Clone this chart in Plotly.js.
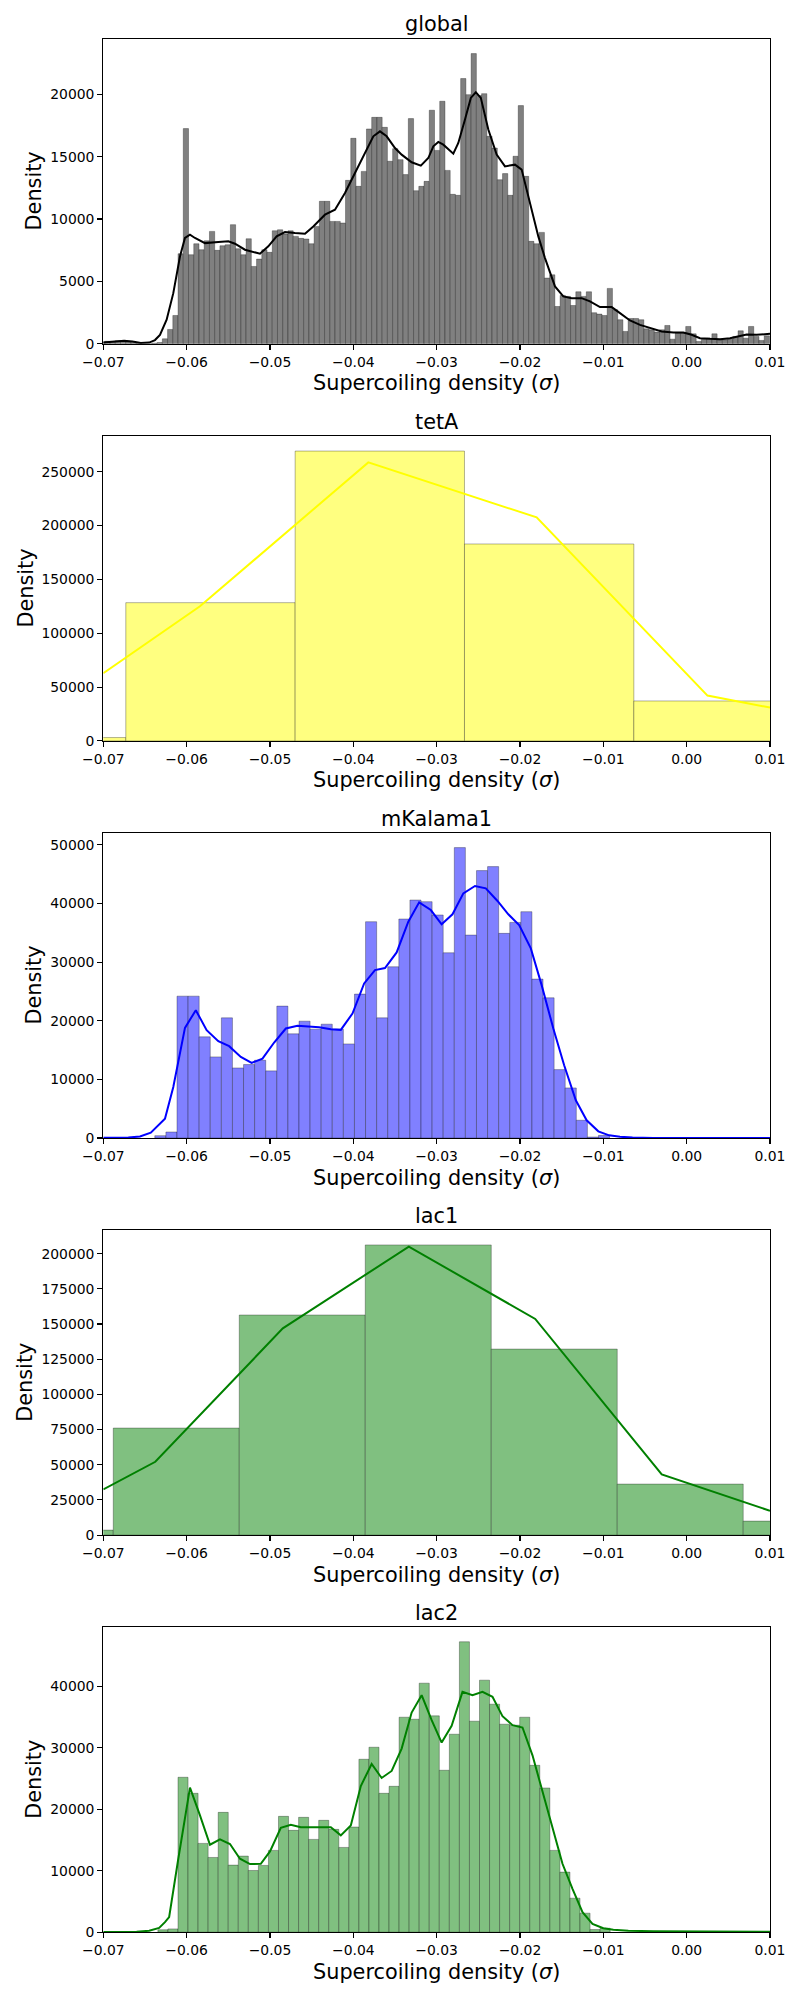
<!DOCTYPE html>
<html><head><meta charset="utf-8">
<script src="https://cdn.plot.ly/plotly-3.0.1.min.js"></script>
<style>html,body{margin:0;padding:0;background:#fff}</style>
</head><body><div id="chart" style="width:800px;height:2000px"></div>
<script>
// ---------- data ----------
const panelTitles = ['global', 'tetA', 'mKalama1', 'lac1', 'lac2'];
const xTickVals = [-0.07, -0.06, -0.05, -0.04, -0.03, -0.02, -0.01, 0.00, 0.01];
const xTickText = ['\u22120.07', '\u22120.06', '\u22120.05', '\u22120.04', '\u22120.03', '\u22120.02', '\u22120.01', '0.00', '0.01'];
const xLabel = 'Supercoiling density (<i>\u03c3</i>)';
const yLabel = 'Density';

// global
const globalBinStart = -0.07045;
const globalBinWidth = 0.000628;
const globalCounts = [150,200,200,250,200,150,100,50,0,0,50,100,
  400,1150,2270,7220,
  17250,7140,8020,7540,8260,9010,7490,7860,7940,9550,
  7620,7140,8420,6200,6790,7540,7330,9060,9140,8800,
  9060,8610,8450,8400,8020,9410,11420,11420,9810,9810,
  9680,13100,16470,12620,13820,17220,18150,18150,17350,14630,
  15640,14760,13560,18050,12270,12620,13020,18720,15500,19440,
  13900,11980,11900,21260,19970,23260,19900,20050,16630,15690,
  13150,13640,11900,15030,19090,13420,8210,8020,8930,5270,
  5530,2990,3880,3800,3070,4170,3800,4170,2490,2380,
  2270,4440,2730,1930,990,2030,2030,1930,1200,1120,
  940,1120,1470,370,860,860,1390,800,190,370,
  450,800,320,320,370,590,1040,450,1390,590,
  270,640];
const globalKdeX = [-0.0700,-0.0685,-0.0675,-0.0665,-0.0655,-0.0645,-0.0638,-0.0632,-0.0624,-0.0616,-0.0608,-0.0602,-0.0596,-0.0590,-0.0578,-0.0562,-0.0550,-0.0542,-0.0530,-0.0512,-0.0502,-0.0492,-0.0482,-0.0470,-0.0458,-0.0448,-0.0434,-0.0422,-0.0410,-0.0398,-0.0386,-0.0376,-0.0368,-0.0360,-0.0350,-0.0342,-0.0330,-0.0319,-0.0310,-0.0304,-0.0298,-0.0292,-0.0280,-0.0274,-0.0266,-0.0259,-0.0253,-0.0247,-0.0238,-0.0228,-0.0218,-0.0206,-0.0198,-0.0188,-0.0178,-0.0170,-0.0158,-0.0148,-0.0138,-0.0126,-0.0116,-0.0104,-0.0090,-0.0080,-0.0068,-0.0056,-0.0044,-0.0030,-0.0016,-0.0004,0.0006,0.0016,0.0028,0.0040,0.0052,0.0064,0.0072,0.0084,0.0100];
const globalKdeY = [100,200,240,180,60,100,300,720,1930,4060,7000,8480,8740,8480,8070,8150,8210,8020,7540,7220,7810,8610,8960,8880,8820,9410,10350,10750,12090,13690,15290,16630,17030,16630,15690,15160,14550,14280,14890,15830,16180,15960,15240,16100,17970,19710,20160,19710,17170,15160,14220,14360,13960,11280,8610,6870,4600,3800,3660,3660,3400,2940,2940,2460,1870,1520,1250,990,910,910,720,450,400,370,450,640,750,720,800];

// tetA
const tetABinStart = -0.08762;
const tetABinWidth = 0.02032;
const tetACounts = [3100, 128400, 269200, 182900, 37100];
const tetAKdeX = [-0.0700, -0.0584, -0.0382, -0.0180, 0.0025, 0.0100];
const tetAKdeY = [62800, 125000, 258700, 207600, 42100, 30900];

// mKalama1
const mKalama1BinStart = -0.06382;
const mKalama1BinWidth = 0.001331;
const mKalama1Counts = [400,1025,24200,24200,17260,13840,20500,11950,12530,13270,11450,22500,17770,19930,18570,19420,18570,16050,24550,36900,20500,29210,37360,40600,40320,38050,31600,49540,34620,45620,46300,34910,36780,38610,27110,23920,11670,8540,3030,170,450];
const mKalama1KdeX = [-0.0700,-0.0670,-0.0656,-0.0643,-0.0626,-0.0616,-0.0602,-0.0589,-0.0576,-0.0562,-0.0549,-0.0535,-0.0522,-0.0509,-0.0495,-0.0481,-0.0467,-0.0454,-0.0441,-0.0427,-0.0415,-0.0401,-0.0387,-0.0374,-0.0362,-0.0348,-0.0334,-0.0321,-0.0307,-0.0294,-0.0281,-0.0268,-0.0254,-0.0241,-0.0227,-0.0214,-0.0201,-0.0187,-0.0174,-0.0160,-0.0147,-0.0133,-0.0120,-0.0106,-0.0093,-0.0080,-0.0065,-0.0040,0.0000,0.0100];
const mKalama1KdeY = [30,80,250,900,3300,8710,18790,21810,18400,16520,15660,13840,12810,13550,16290,18680,19130,19020,18910,18570,18450,21240,26360,28640,28990,31660,36900,40210,38890,36450,38160,41740,42990,42600,40440,38160,36330,32350,26080,18680,12420,6430,3020,1140,450,200,80,20,5,0];

// lac1
const lac1BinStart = -0.08392;
const lac1BinWidth = 0.015118;
const lac1Counts = [3550, 76070, 156400, 206200, 132200, 36260, 9950];
const lac1KdeX = [-0.0700, -0.06376, -0.04846, -0.03334, -0.01817, -0.00299, 0.0100];
const lac1KdeY = [32500, 52100, 146900, 205000, 153600, 43100, 17300];

// lac2
const lac2BinStart = -0.06345;
const lac2BinWidth = 0.001206;
const lac2Counts = [400,540,25220,22610,14460,12170,19510,10920,12390,10050,10870,13320,18860,16580,18700,15110,18210,16740,13800,17120,28150,30110,22610,23750,35000,34670,40540,35220,26360,32230,47280,34350,41030,37120,33860,33700,35000,27170,23480,13320,9780,5540,3100,430,650];
const lac2KdeX = [-0.0700,-0.0660,-0.0645,-0.0633,-0.0626,-0.0621,-0.0610,-0.0596,-0.0584,-0.0572,-0.0560,-0.0548,-0.0536,-0.0524,-0.0511,-0.0500,-0.0487,-0.0475,-0.0463,-0.0451,-0.0439,-0.0427,-0.0415,-0.0403,-0.0391,-0.0378,-0.0366,-0.0354,-0.0342,-0.0330,-0.0318,-0.0306,-0.0294,-0.0282,-0.0269,-0.0257,-0.0245,-0.0233,-0.0221,-0.0209,-0.0197,-0.0185,-0.0173,-0.0161,-0.0149,-0.0137,-0.0125,-0.0113,-0.0100,-0.0088,-0.0070,-0.0040,0.0000,0.0100];
const lac2KdeY = [30,60,250,700,1630,2450,11960,23530,19020,14240,15110,14350,11960,11090,11140,13150,17010,17500,17070,17010,17070,17070,15760,17390,23800,27390,25110,26250,29890,35760,38590,34510,30870,33590,39130,38590,39130,38320,35160,33700,33320,28800,22830,16850,11140,7070,3260,1360,650,400,250,150,100,80];

// ---------- build ----------
const series = [
  {start: globalBinStart, width: globalBinWidth, counts: globalCounts, kx: globalKdeX, ky: globalKdeY,
   fill: '#808080', line: '#000000', ymax: 24430, dtick: 5000, labelX: 34},
  {start: tetABinStart, width: tetABinWidth, counts: tetACounts, kx: tetAKdeX, ky: tetAKdeY,
   fill: '#ffff80', line: '#ffff00', ymax: 283100, dtick: 50000, labelX: 25},
  {start: mKalama1BinStart, width: mKalama1BinWidth, counts: mKalama1Counts, kx: mKalama1KdeX, ky: mKalama1KdeY,
   fill: '#8080ff', line: '#0000ff', ymax: 52000, dtick: 10000, labelX: 34},
  {start: lac1BinStart, width: lac1BinWidth, counts: lac1Counts, kx: lac1KdeX, ky: lac1KdeY,
   fill: '#80c080', line: '#008000', ymax: 216600, dtick: 25000, labelX: 25},
  {start: lac2BinStart, width: lac2BinWidth, counts: lac2Counts, kx: lac2KdeX, ky: lac2KdeY,
   fill: '#80c080', line: '#008000', ymax: 49620, dtick: 10000, labelX: 34}
];

const W = 800, H = 2000;
const FONT = 'DejaVu Sans, sans-serif';
const plotLeft = 103.3, plotRight = 770;
const firstTop = 39, pitch = 397.1, plotH = 304.8;
const xDom = [plotLeft / W, plotRight / W];

const traces = [];
const layout = {
  width: W, height: H,
  margin: {l: 0, r: 0, t: 0, b: 0},
  paper_bgcolor: '#ffffff', plot_bgcolor: '#ffffff',
  showlegend: false, barmode: 'overlay',
  font: {family: FONT, color: '#000000'},
  annotations: []
};

series.forEach((s, i) => {
  const n = i + 1;
  const xa = 'x' + (n === 1 ? '' : n), ya = 'y' + (n === 1 ? '' : n);
  const top = firstTop + pitch * i, bottom = top + plotH;
  const yDom = [1 - bottom / H, 1 - top / H];

  traces.push({
    type: 'bar', xaxis: xa, yaxis: ya,
    x: s.counts.map((_, j) => s.start + (j + 0.5) * s.width),
    y: s.counts, width: s.width,
    marker: {color: s.fill, line: {color: 'rgba(0,0,0,0.3)', width: 1}},
    hoverinfo: 'skip'
  });
  traces.push({
    type: 'scatter', mode: 'lines', xaxis: xa, yaxis: ya,
    x: s.kx, y: s.ky, line: {color: s.line, width: 2}, hoverinfo: 'skip'
  });

  const axCommon = {
    showline: true, linecolor: '#000000', linewidth: 1.1, mirror: true,
    ticks: 'outside', ticklen: 5, tickwidth: 1.1, tickcolor: '#000000',
    showgrid: false, zeroline: false,
    tickfont: {family: FONT, size: 13.9, color: '#000000'}
  };
  layout['xaxis' + (n === 1 ? '' : n)] = Object.assign({}, axCommon, {
    domain: xDom, anchor: ya, range: [-0.0700001, 0.0100001],
    tickmode: 'array', tickvals: xTickVals, ticktext: xTickText
  });
  layout['yaxis' + (n === 1 ? '' : n)] = Object.assign({}, axCommon, {
    domain: yDom, anchor: xa, range: [0, s.ymax],
    tick0: 0, dtick: s.dtick, tickformat: 'd'
  });

  const cx = (xDom[0] + xDom[1]) / 2;
  layout.annotations.push({
    text: panelTitles[i], xref: 'paper', yref: 'paper', x: cx, y: yDom[1],
    xanchor: 'center', yanchor: 'middle', yshift: 14.5, showarrow: false,
    font: {family: FONT, size: 20.8, color: '#000000'}
  });
  layout.annotations.push({
    text: xLabel, xref: 'paper', yref: 'paper', x: cx, y: yDom[0],
    xanchor: 'center', yanchor: 'middle', yshift: -39.5, showarrow: false,
    font: {family: FONT, size: 20.8, color: '#000000'}
  });
  layout.annotations.push({
    text: yLabel, xref: 'paper', yref: 'paper', x: s.labelX / W, y: (yDom[0] + yDom[1]) / 2,
    xanchor: 'center', yanchor: 'middle', textangle: -90, showarrow: false,
    font: {family: FONT, size: 20.8, color: '#000000'}
  });
});

Plotly.newPlot('chart', traces, layout, {staticPlot: true, displayModeBar: false});
</script></body></html>
